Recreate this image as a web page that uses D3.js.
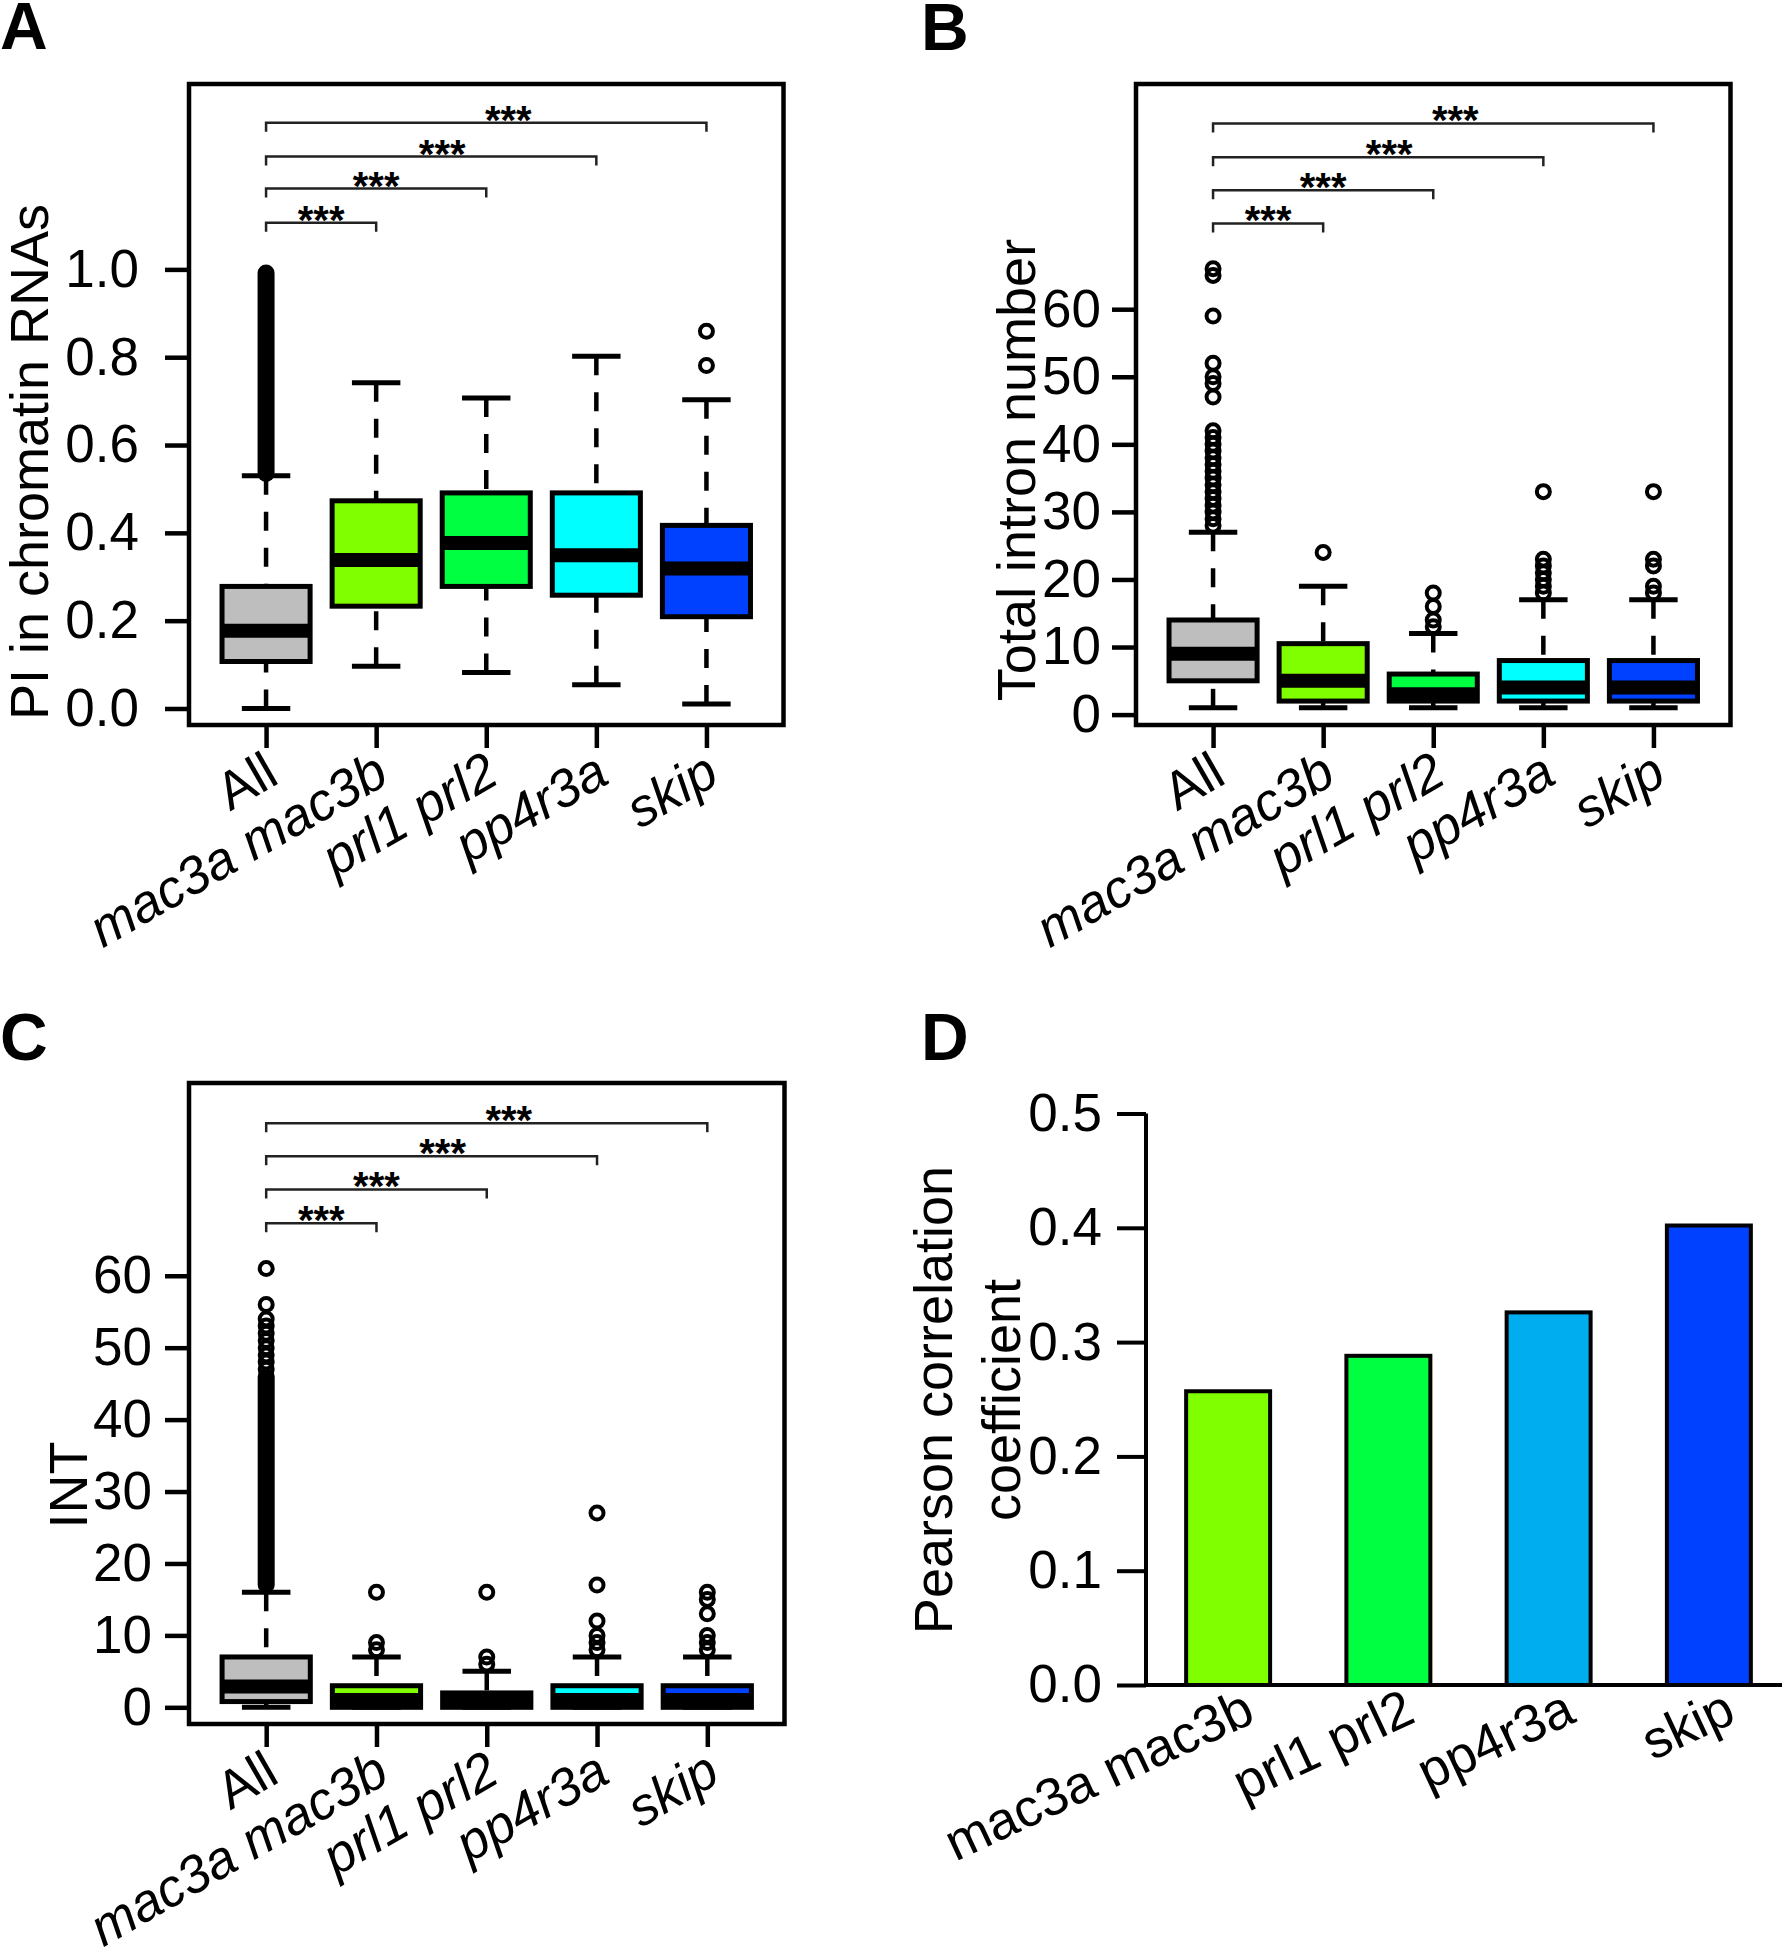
<!DOCTYPE html>
<html>
<head>
<meta charset="utf-8">
<script src="https://d3js.org/d3.v7.min.js"></script>
<style>
  body { margin: 0; background: #fff; }
</style>
</head>
<body>
<div id="fig"></div>
<script>
// groups shared by the three box plots
var groups = ["All", "mac3a mac3b", "prl1 prl2", "pp4r3a", "skip"];
var boxColors = ["#bebebe", "#80ff00", "#00ff40", "#00ffff", "#0040ff"];

// A - PI in chromatin RNAs, each row: [low whisker, Q1, median, Q3, high whisker]
var piStats = [
  [0.0, 0.107, 0.177, 0.278, 0.53],
  [0.096, 0.233, 0.338, 0.473, 0.742],
  [0.082, 0.278, 0.377, 0.491, 0.707],
  [0.054, 0.258, 0.349, 0.491, 0.802],
  [0.01, 0.209, 0.319, 0.417, 0.703]
];
var piOutliers = [[], [], [], [], [0.781, 0.859]];
var piDense = [[0.535, 0.992], null, null, null, null];   // solid run of overlapping outliers
var piTicks = [0, 0.2, 0.4, 0.6, 0.8, 1.0];
var piBrackets = [1.106, 1.184, 1.257, 1.334];

// B - total intron number
var intronStats = [
  [1, 5, 9, 14, 27],
  [1, 2, 5, 10.5, 19],
  [1, 2, 3, 6, 12],
  [1, 2, 4, 8, 17],
  [1, 2, 4, 8, 17]
];
var intronOutliers = [
  [28, 29, 30, 31, 32, 33, 34, 35, 36, 37, 38, 39, 40, 41, 42, 47, 49, 50, 52, 59, 65, 66],
  [24],
  [13, 14, 16, 18],
  [18, 19, 20, 21, 22, 23, 33],
  [18, 19, 22, 23, 33]
];
var intronTicks = [0, 10, 20, 30, 40, 50, 60];
var intronBrackets = [72.7, 77.6, 82.5, 87.5];

// C - INT
var intStats = [
  [0, 0.8, 2.9, 7, 16],
  [0, 0, 1, 3, 7],
  [0, 0, 1, 2, 5],
  [0, 0, 1, 3, 7],
  [0, 0, 1, 3, 7]
];
var intOutliers = [
  [47, 48, 49, 50, 51, 52, 53, 54, 56, 61],
  [8, 9, 16],
  [6, 7, 16],
  [8, 9, 10, 12, 17, 27],
  [8, 9, 10, 13, 15, 16]
];
var intDense = [[17, 46], null, null, null, null];
var intTicks = [0, 10, 20, 30, 40, 50, 60];
var intBrackets = [67.3, 72.0, 76.6, 81.2];

// where the "***" sit along the x axis (group units)
var starX = [1.5, 2.0, 2.6, 3.2];

// D - Pearson correlation coefficient
var corrGroups = ["mac3a mac3b", "prl1 prl2", "pp4r3a", "skip"];
var corrValues = [0.257, 0.288, 0.326, 0.402];
var corrColors = ["#80ff00", "#00ff40", "#00aeef", "#0040ff"];
var corrTicks = [0, 0.1, 0.2, 0.3, 0.4, 0.5];

var FONT = '"Liberation Sans", Arial, Helvetica, sans-serif';

var svg = d3.select("#fig").append("svg")
    .attr("width", 1782)
    .attr("height", 1950)
    .style("font-family", FONT);
svg.append("rect").attr("width", 1782).attr("height", 1950).attr("fill", "#fff");

function boxPanel(p) {
  var x = d3.scaleLinear().domain([0.3, 5.7]).range([p.left, p.right]);
  var y = d3.scaleLinear().domain(p.yDomain).range([p.bottom, p.top]);
  var boxHalf = x(1.4) - x(1),
      capHalf = x(1.22) - x(1);
  var g = svg.append("g");

  var grp = g.selectAll("g.grp")
      .data(p.stats)
      .enter().append("g")
      .attr("class", "grp")
      .attr("transform", function(d, i) { return "translate(" + x(i + 1) + ",0)"; });

  // whiskers, drawn from the staple toward the box
  grp.append("line")
      .attr("y1", function(d) { return y(d[4]); })
      .attr("y2", function(d) { return y(d[3]); })
      .attr("stroke", "#000").attr("stroke-width", 4.5)
      .attr("stroke-dasharray", "19,17");
  grp.append("line")
      .attr("y1", function(d) { return y(d[0]); })
      .attr("y2", function(d) { return y(d[1]); })
      .attr("stroke", "#000").attr("stroke-width", 4.5)
      .attr("stroke-dasharray", "19,17");
  [0, 4].forEach(function(k) {
    grp.append("line")
        .attr("x1", -capHalf).attr("x2", capHalf)
        .attr("y1", function(d) { return y(d[k]); })
        .attr("y2", function(d) { return y(d[k]); })
        .attr("stroke", "#000").attr("stroke-width", 5);
  });

  grp.append("rect")
      .attr("x", -boxHalf)
      .attr("width", 2 * boxHalf)
      .attr("y", function(d) { return y(d[3]); })
      .attr("height", function(d) { return y(d[1]) - y(d[3]); })
      .attr("fill", function(d, i) { return boxColors[i]; })
      .attr("stroke", "#000").attr("stroke-width", 5);
  grp.append("line")
      .attr("x1", -boxHalf).attr("x2", boxHalf)
      .attr("y1", function(d) { return y(d[2]); })
      .attr("y2", function(d) { return y(d[2]); })
      .attr("stroke", "#000").attr("stroke-width", 14);

  // outliers
  grp.each(function(d, i) {
    var sel = d3.select(this);
    if (p.dense && p.dense[i]) {
      sel.append("line")
          .attr("y1", y(p.dense[i][0])).attr("y2", y(p.dense[i][1]))
          .attr("stroke", "#000").attr("stroke-width", 17)
          .attr("stroke-linecap", "round");
    }
    sel.selectAll("circle")
        .data(p.outliers[i])
        .enter().append("circle")
        .attr("cy", function(v) { return y(v); })
        .attr("r", 6.5)
        .attr("fill", "none")
        .attr("stroke", "#000").attr("stroke-width", 4);
  });

  // frame
  g.append("rect")
      .attr("x", p.left).attr("y", p.top)
      .attr("width", p.right - p.left).attr("height", p.bottom - p.top)
      .attr("fill", "none").attr("stroke", "#000").attr("stroke-width", 4.5);

  // y axis
  var ya = g.append("g")
      .attr("transform", "translate(" + p.left + ",0)")
      .call(d3.axisLeft(y).tickValues(p.ticks).tickFormat(p.fmt).tickSize(24).tickPadding(p.labelPad));
  ya.select(".domain").remove();
  ya.selectAll("line").attr("stroke", "#000").attr("stroke-width", 4.5);
  ya.selectAll("text").attr("font-size", 53).attr("font-family", FONT).attr("fill", "#000");

  // x axis ticks + slanted labels
  var xa = g.append("g")
      .attr("transform", "translate(0," + p.bottom + ")")
      .call(d3.axisBottom(x).tickValues([1, 2, 3, 4, 5]).tickSize(23).tickFormat(""));
  xa.select(".domain").remove();
  xa.selectAll("line").attr("stroke", "#000").attr("stroke-width", 4.5);
  g.selectAll("text.xlab")
      .data(groups)
      .enter().append("text")
      .attr("class", "xlab")
      .attr("transform", function(d, i) {
        return "translate(" + (x(i + 1) + 15) + "," + (p.bottom + 57) + ")rotate(-30)";
      })
      .attr("text-anchor", "end")
      .attr("font-size", 53)
      .attr("font-style", function(d, i) { return i ? "italic" : "normal"; })
      .text(function(d) { return d; });

  // significance brackets
  g.selectAll("path.brk")
      .data(p.brackets)
      .enter().append("path")
      .attr("class", "brk")
      .attr("d", function(b, j) {
        return "M" + x(1) + "," + (y(b) + 9) + "V" + y(b) + "H" + x(j + 2) + "V" + (y(b) + 9);
      })
      .attr("fill", "none").attr("stroke", "#222").attr("stroke-width", 2.5);
  g.selectAll("text.star")
      .data(p.brackets)
      .enter().append("text")
      .attr("class", "star")
      .attr("x", function(b, j) { return x(starX[j]); })
      .attr("y", function(b) { return y(b) + 11; })
      .attr("text-anchor", "middle")
      .attr("font-size", 40)
      .attr("font-weight", "bold")
      .text("***");

  // y title
  g.append("text")
      .attr("transform", "translate(" + p.titleX + "," + p.titleY + ")rotate(-90)")
      .attr("text-anchor", "middle")
      .attr("font-size", 54)
      .text(p.title);
}

boxPanel({
  left: 189, right: 783.5, top: 84, bottom: 725,
  yDomain: [-0.0376, 1.4222],
  stats: piStats, outliers: piOutliers, dense: piDense,
  ticks: piTicks, fmt: d3.format(".1f"), labelPad: 26,
  brackets: piBrackets,
  title: "PI in chromatin RNAs", titleX: 48, titleY: 462
});

boxPanel({
  left: 1136, right: 1730.5, top: 84, bottom: 725,
  yDomain: [-1.54, 93.33],
  stats: intronStats, outliers: intronOutliers, dense: null,
  ticks: intronTicks, fmt: d3.format("d"), labelPad: 11,
  brackets: intronBrackets,
  title: "Total intron number", titleX: 1035, titleY: 470
});

boxPanel({
  left: 189, right: 784.5, top: 1083, bottom: 1724,
  yDomain: [-2.32, 86.8],
  stats: intStats, outliers: intOutliers, dense: intDense,
  ticks: intTicks, fmt: d3.format("d"), labelPad: 13,
  brackets: intBrackets,
  title: "INT", titleX: 87, titleY: 1485
});

// D - bar chart
(function() {
  var left = 1146, bottom = 1685, top = 1113.5;
  var x = d3.scaleBand().domain(corrGroups).range([1148, 1789])
      .paddingInner(0.476).paddingOuter(0.238);
  var y = d3.scaleLinear().domain([0, 0.5]).range([bottom, top]);
  var g = svg.append("g");

  g.selectAll("rect.bar")
      .data(corrValues)
      .enter().append("rect")
      .attr("class", "bar")
      .attr("x", function(d, i) { return x(corrGroups[i]); })
      .attr("width", x.bandwidth())
      .attr("y", function(d) { return y(d); })
      .attr("height", function(d) { return bottom - y(d); })
      .attr("fill", function(d, i) { return corrColors[i]; })
      .attr("stroke", "#000").attr("stroke-width", 4);

  var ya = g.append("g")
      .attr("transform", "translate(" + left + ",0)")
      .call(d3.axisLeft(y).tickValues(corrTicks).tickFormat(d3.format(".1f")).tickSize(29).tickPadding(15));
  ya.select(".domain").attr("stroke", "#000").attr("stroke-width", 4).attr("d", "M0," + top + "V" + bottom);
  ya.selectAll("line").attr("stroke", "#000").attr("stroke-width", 4);
  ya.selectAll("text").attr("font-size", 53).attr("font-family", FONT).attr("fill", "#000");

  g.append("line")
      .attr("x1", left).attr("x2", 1782)
      .attr("y1", bottom).attr("y2", bottom)
      .attr("stroke", "#000").attr("stroke-width", 4);

  g.selectAll("text.xlab")
      .data(corrGroups)
      .enter().append("text")
      .attr("class", "xlab")
      .attr("transform", function(d) {
        return "translate(" + (x(d) + x.bandwidth() / 2 + 29) + "," + (bottom + 36) + ")rotate(-25)";
      })
      .attr("text-anchor", "end")
      .attr("font-size", 53)
      .text(function(d) { return d; });

  g.append("text")
      .attr("transform", "translate(952,1400)rotate(-90)")
      .attr("text-anchor", "middle")
      .attr("font-size", 54)
      .text("Pearson correlation");
  g.append("text")
      .attr("transform", "translate(1020,1400)rotate(-90)")
      .attr("text-anchor", "middle")
      .attr("font-size", 54)
      .text("coefficient");
})();

// panel letters
var letters = [["A", 0, 49], ["B", 921, 50], ["C", 0, 1060], ["D", 921, 1060]];
svg.selectAll("text.letter")
    .data(letters)
    .enter().append("text")
    .attr("class", "letter")
    .attr("x", function(d) { return d[1]; })
    .attr("y", function(d) { return d[2]; })
    .attr("font-size", 66)
    .attr("font-weight", "bold")
    .text(function(d) { return d[0]; });
</script>
</body>
</html>
